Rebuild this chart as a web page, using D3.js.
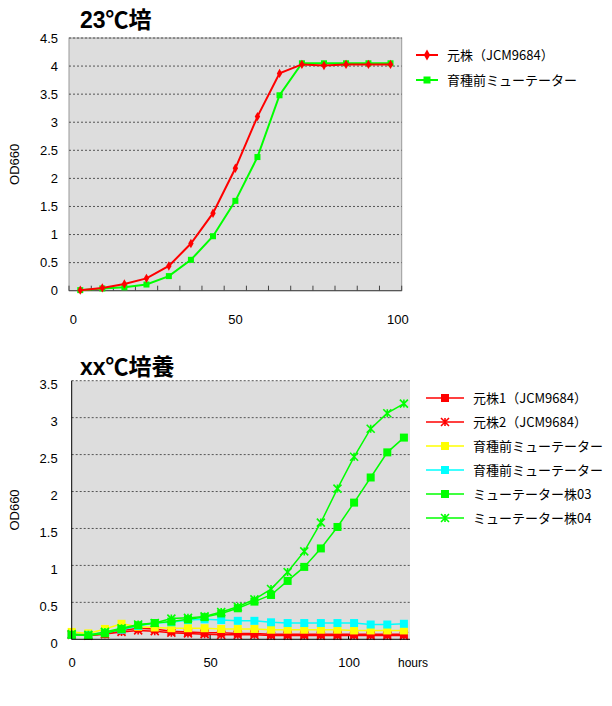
<!DOCTYPE html>
<html>
<head>
<meta charset="utf-8">
<script src="https://cdn.jsdelivr.net/npm/d3@7"></script>
<style>
  body { margin: 0; background: #fff; }
  svg { display: block; }
  text { font-family: "Liberation Sans", "Noto Sans CJK JP", sans-serif; }
</style>
</head>
<body>
<div id="chart"></div>
<script>
// ---- top chart data (23℃) ----
const topHours = [2.3, 9.1, 15.9, 22.7, 29.6, 36.4, 43.2, 50.1, 56.9, 63.7, 70.6, 77.4, 84.2, 91.1, 97.9];
const topOriginal = [0.01, 0.05, 0.12, 0.22, 0.44, 0.84, 1.38, 2.18, 3.10, 3.87, 4.03, 4.01, 4.03, 4.03, 4.03];
const topMutator = [0.01, 0.04, 0.06, 0.11, 0.26, 0.55, 0.97, 1.60, 2.38, 3.48, 4.05, 4.05, 4.05, 4.05, 4.05];
const topYTicks = [0, 0.5, 1, 1.5, 2, 2.5, 3, 3.5, 4, 4.5];
const topXTicks = [0, 50, 100];

// ---- bottom chart data (xx℃) ----
const botHours = [0, 6, 12, 18, 24, 30, 36, 42, 48, 54, 60, 66, 72, 78, 84, 90, 96, 102, 108, 114, 120];
const orig1 = [0.07, 0.05, 0.07, 0.12, 0.15, 0.14, 0.11, 0.10, 0.09, 0.09, 0.08, 0.08, 0.07, 0.07, 0.07, 0.07, 0.07, 0.07, 0.07, 0.07, 0.07];
const orig2 = [0.06, 0.05, 0.07, 0.10, 0.12, 0.11, 0.09, 0.08, 0.07, 0.06, 0.06, 0.06, 0.05, 0.05, 0.05, 0.05, 0.05, 0.05, 0.05, 0.05, 0.05];
const preMut1 = [0.10, 0.08, 0.14, 0.21, 0.17, 0.16, 0.15, 0.15, 0.15, 0.14, 0.14, 0.14, 0.13, 0.13, 0.13, 0.13, 0.13, 0.12, 0.12, 0.12, 0.12];
const preMut2 = [0.06, 0.06, 0.09, 0.13, 0.18, 0.22, 0.23, 0.26, 0.27, 0.26, 0.25, 0.25, 0.23, 0.22, 0.22, 0.22, 0.22, 0.22, 0.20, 0.20, 0.21];
const mut03 = [0.06, 0.05, 0.08, 0.14, 0.19, 0.22, 0.24, 0.27, 0.30, 0.35, 0.42, 0.51, 0.60, 0.79, 0.98, 1.23, 1.52, 1.85, 2.19, 2.53, 2.73];
const mut04 = [0.07, 0.06, 0.10, 0.15, 0.20, 0.22, 0.28, 0.29, 0.31, 0.37, 0.44, 0.54, 0.68, 0.91, 1.19, 1.58, 2.04, 2.47, 2.85, 3.06, 3.19];
const botYTicks = [0, 0.5, 1, 1.5, 2, 2.5, 3, 3.5];
const botXTicks = [0, 50, 100];

const svg = d3.select("#chart").append("svg")
  .attr("width", 612)
  .attr("height", 706);

const zip = (xs, ys) => xs.map((x, i) => ({ x: x, y: ys[i] }));

function marker(g, shape, color, size) {
  if (shape === "square") {
    g.append("rect")
      .attr("x", -size / 2).attr("y", -size / 2)
      .attr("width", size).attr("height", size)
      .attr("fill", color);
  } else if (shape === "diamond") {
    g.append("path")
      .attr("d", d3.symbol(d3.symbolDiamond, size * size * 0.7)())
      .attr("fill", color);
  } else if (shape === "x") {
    const h = size / 2;
    g.append("path")
      .attr("d", `M${-h},${-h}L${h},${h}M${-h},${h}L${h},${-h}M0,${-h}L0,${h}`)
      .attr("stroke", color).attr("stroke-width", 1.6).attr("fill", "none");
  }
}

// ================= TOP CHART =================
function drawTop() {
  const x = d3.scaleLinear().domain([-1.17, 101.35]).range([69, 401.7]);
  const y = d3.scaleLinear().domain([0, 4.5]).range([290.7, 38]);
  const g = svg.append("g");

  g.append("rect")
    .attr("x", x.range()[0]).attr("y", y.range()[1])
    .attr("width", x.range()[1] - x.range()[0])
    .attr("height", y.range()[0] - y.range()[1])
    .attr("fill", "#dddddd")
    .attr("stroke", "#9a9a9a");

  // dashed grid
  g.selectAll(".grid").data(topYTicks.filter(d => d > 0)).enter()
    .append("line")
    .attr("x1", x.range()[0]).attr("x2", x.range()[1])
    .attr("y1", d => y(d)).attr("y2", d => y(d))
    .attr("stroke", "#555").attr("stroke-width", 1)
    .attr("stroke-dasharray", "2,2");

  // y labels
  const ya = g.append("g")
    .attr("transform", `translate(${x.range()[0]},0)`)
    .call(d3.axisLeft(y).tickValues(topYTicks).tickFormat(d3.format("")).tickSize(0).tickPadding(11));
  ya.select(".domain").remove();
  ya.selectAll("text").attr("font-size", 13).attr("fill", "#000")
    .style("font-family", "Liberation Sans, sans-serif");

  // x axis: category-like tick marks between samples
  const mids = [x.domain()[0]];
  for (let i = 0; i < topHours.length - 1; i++) mids.push((topHours[i] + topHours[i + 1]) / 2);
  mids.push(x.domain()[1]);
  g.selectAll(".xt").data(mids).enter()
    .append("line")
    .attr("x1", d => x(d)).attr("x2", d => x(d))
    .attr("y1", y(0)).attr("y2", y(0) - 5)
    .attr("stroke", "#444");
  g.append("line")
    .attr("x1", x.range()[0]).attr("x2", x.range()[1])
    .attr("y1", y(0)).attr("y2", y(0))
    .attr("stroke", "#444");

  const xa = g.append("g")
    .attr("transform", `translate(0,${y(0)})`)
    .call(d3.axisBottom(x).tickValues(topXTicks).tickFormat(d3.format("d")).tickSize(0).tickPadding(24));
  xa.select(".domain").remove();
  xa.selectAll("text").attr("font-size", 13).attr("fill", "#000")
    .style("font-family", "Liberation Sans, sans-serif");

  const line = d3.line().x(d => x(d.x)).y(d => y(d.y));
  const series = [
    { name: "元株（JCM9684）", values: topOriginal, color: "#ff0000", shape: "diamond" },
    { name: "育種前ミューテーター", values: topMutator, color: "#00ff00", shape: "square" }
  ];
  // green first, red drawn over it
  [series[1], series[0]].forEach(s => {
    const pts = zip(topHours, s.values);
    g.append("path").datum(pts)
      .attr("d", line).attr("fill", "none")
      .attr("stroke", s.color).attr("stroke-width", 2);
    g.selectAll(null).data(pts).enter().append("g")
      .attr("transform", d => `translate(${x(d.x)},${y(d.y)})`)
      .each(function () { marker(d3.select(this), s.shape, s.color, 6); });
  });

  // title
  g.append("text")
    .attr("x", 80).attr("y", 28)
    .attr("font-size", 23).attr("font-weight", "bold")
    .style("font-family", "Liberation Sans, Noto Sans CJK JP, sans-serif")
    .text("23℃培");

  g.append("text")
    .attr("transform", `translate(19,${(y.range()[0] + y.range()[1]) / 2}) rotate(-90)`)
    .attr("text-anchor", "middle")
    .attr("font-size", 13)
    .text("OD660");

  // legend
  const lg = g.append("g").attr("transform", "translate(416,55)");
  series.forEach((s, i) => {
    const row = lg.append("g").attr("transform", `translate(0,${i * 25})`);
    row.append("line").attr("x1", 0).attr("x2", 22).attr("stroke", s.color).attr("stroke-width", 2);
    const m = row.append("g").attr("transform", "translate(11,0)");
    marker(m, s.shape, s.color, 7);
    row.append("text").attr("x", 31).attr("dy", "0.35em")
      .attr("font-size", 13)
      .style("font-family", "Noto Sans CJK JP, sans-serif")
      .text(s.name);
  });
}

// ================= BOTTOM CHART =================
function drawBottom() {
  const x = d3.scaleLinear().domain([0, 122.2]).range([71.7, 410]);
  const y = d3.scaleLinear().domain([0, 3.5]).range([639.3, 380.7]);
  const g = svg.append("g");

  g.append("rect")
    .attr("x", x.range()[0]).attr("y", y.range()[1])
    .attr("width", x.range()[1] - x.range()[0])
    .attr("height", y.range()[0] - y.range()[1])
    .attr("fill", "#dddddd");

  g.selectAll(".grid").data(botYTicks.filter(d => d > 0)).enter()
    .append("line")
    .attr("x1", x.range()[0]).attr("x2", x.range()[1])
    .attr("y1", d => y(d)).attr("y2", d => y(d))
    .attr("stroke", "#555").attr("stroke-width", 1)
    .attr("stroke-dasharray", "2,2");

  const ya = g.append("g")
    .attr("transform", `translate(${x.range()[0]},4)`)
    .call(d3.axisLeft(y).tickValues(botYTicks).tickFormat(d3.format("")).tickSize(0).tickPadding(14));
  ya.select(".domain").remove();
  ya.selectAll("text").attr("font-size", 13).attr("fill", "#000")
    .style("font-family", "Liberation Sans, sans-serif");

  const xa = g.append("g")
    .attr("transform", `translate(0,${y(0)})`)
    .call(d3.axisBottom(x).tickValues(botXTicks).tickFormat(d3.format("d")).tickSize(0).tickPadding(18));
  xa.select(".domain").remove();
  xa.selectAll("text").attr("font-size", 13).attr("fill", "#000")
    .style("font-family", "Liberation Sans, sans-serif");

  g.selectAll(".xt").data(botXTicks).enter().append("line")
    .attr("x1", d => x(d)).attr("x2", d => x(d))
    .attr("y1", y(0)).attr("y2", y(0) - 5)
    .attr("stroke", "#000");

  const line = d3.line().x(d => x(d.x)).y(d => y(d.y));
  const series = [
    { name: "元株1（JCM9684）", values: orig1, color: "#ff0000", shape: "square" },
    { name: "元株2（JCM9684）", values: orig2, color: "#ff0000", shape: "x" },
    { name: "育種前ミューテーター", values: preMut1, color: "#ffff00", shape: "square" },
    { name: "育種前ミューテーター", values: preMut2, color: "#00ffff", shape: "square" },
    { name: "ミューテーター株03", values: mut03, color: "#00ff00", shape: "square" },
    { name: "ミューテーター株04", values: mut04, color: "#00ff00", shape: "x" }
  ];
  series.forEach(s => {
    const pts = zip(botHours, s.values);
    g.append("path").datum(pts)
      .attr("d", line).attr("fill", "none")
      .attr("stroke", s.color).attr("stroke-width", 1.5);
    g.selectAll(null).data(pts).enter().append("g")
      .attr("transform", d => `translate(${x(d.x)},${y(d.y)})`)
      .each(function () { marker(d3.select(this), s.shape, s.color, 8); });
  });

  // axis lines
  g.append("line")
    .attr("x1", x.range()[0]).attr("x2", x.range()[1])
    .attr("y1", y(0)).attr("y2", y(0)).attr("stroke", "#000");
  g.append("line")
    .attr("x1", x.range()[0]).attr("x2", x.range()[0])
    .attr("y1", y.range()[1]).attr("y2", y(0)).attr("stroke", "#000");

  g.append("text")
    .attr("x", 398).attr("y", 667)
    .attr("font-size", 12)
    .text("hours");

  g.append("text")
    .attr("x", 80).attr("y", 375)
    .attr("font-size", 23).attr("font-weight", "bold")
    .style("font-family", "Liberation Sans, Noto Sans CJK JP, sans-serif")
    .text("xx℃培養");

  g.append("text")
    .attr("transform", `translate(19,${(y.range()[0] + y.range()[1]) / 2}) rotate(-90)`)
    .attr("text-anchor", "middle")
    .attr("font-size", 13)
    .text("OD660");

  const lg = g.append("g").attr("transform", "translate(426,398)");
  series.forEach((s, i) => {
    const row = lg.append("g").attr("transform", `translate(0,${i * 24})`);
    row.append("line").attr("x1", 0).attr("x2", 38).attr("stroke", s.color).attr("stroke-width", 1.5);
    const m = row.append("g").attr("transform", "translate(19,0)");
    marker(m, s.shape, s.color, 8);
    row.append("text").attr("x", 47).attr("dy", "0.35em")
      .attr("font-size", 13)
      .style("font-family", "Noto Sans CJK JP, sans-serif")
      .text(s.name);
  });
}

drawTop();
drawBottom();
</script>
</body>
</html>
